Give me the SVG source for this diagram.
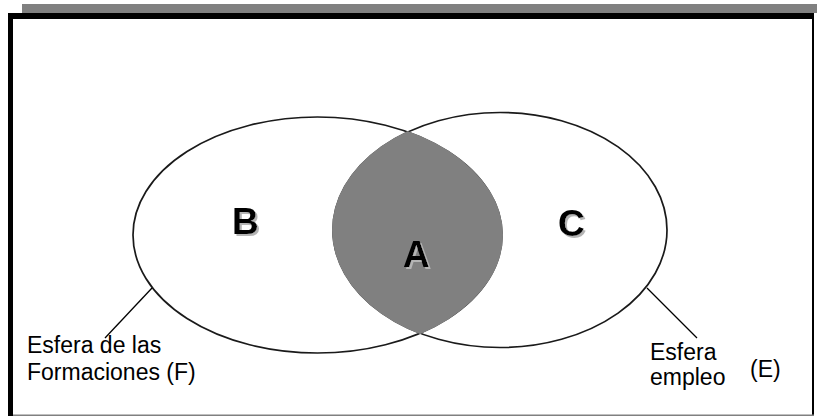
<svg xmlns="http://www.w3.org/2000/svg" width="817" height="416" viewBox="0 0 817 416">
<style>
.ell{fill:none;stroke:#1a1a1a;stroke-width:1.7}
.lbl{font-family:"Liberation Sans",Arial,sans-serif;font-size:23px;fill:#000}
.big{font-family:"Liberation Sans",Arial,sans-serif;font-size:37px;font-weight:bold;fill:#000;filter:url(#shadow)}
.lead{stroke:#000;stroke-width:1.3;fill:none}
</style>
<defs>
<clipPath id="clipL"><ellipse cx="317.5" cy="235" rx="185.5" ry="119"/></clipPath>
<filter id="shadow" x="-20%" y="-20%" width="150%" height="150%">
<feFlood flood-color="#b4b4b4" result="c"/>
<feComposite in="c" in2="SourceAlpha" operator="in" result="s"/>
<feOffset in="s" dx="2" dy="2" result="o"/>
<feMerge><feMergeNode in="o"/><feMergeNode in="SourceGraphic"/></feMerge>
</filter>
</defs>
<rect x="0" y="0" width="817" height="416" fill="#fff"/>
<g id="frame">
<rect x="22" y="4" width="795" height="9" fill="#808080"/>
<rect x="8" y="13" width="806" height="6" fill="#000"/>
<rect x="8" y="13" width="5" height="403" fill="#000"/>
<rect x="812" y="13" width="2" height="402" fill="#000"/>
<rect x="13" y="414.5" width="801" height="1.5" fill="#808080"/>
</g>
<g id="sphereF">
<ellipse class="ell" cx="317.5" cy="235" rx="184.5" ry="118"/>
</g>
<g id="sphereE">
<ellipse class="ell" cx="500" cy="230" rx="167" ry="117.5"/>
</g>
<g id="lens">
<ellipse cx="500" cy="230" rx="168" ry="118.5" fill="#808080" clip-path="url(#clipL)"/>
</g>
<g id="connectors">
<line class="lead" x1="152" y1="288" x2="105" y2="338"/>
<line class="lead" x1="647" y1="288" x2="697" y2="338"/>
</g>
<g id="labelB"><text class="big" x="232" y="234">B</text></g>
<g id="labelA"><text class="big" x="403" y="267">A</text></g>
<g id="labelC"><text class="big" x="558" y="236">C</text></g>
<g id="textF">
<text class="lbl" x="27" y="353">Esfera de las</text>
<text class="lbl" x="27" y="380">Formaciones (F)</text>
</g>
<g id="textE">
<text class="lbl" x="650" y="360">Esfera</text>
<text class="lbl" x="650" y="385">empleo</text>
<text class="lbl" x="750" y="377">(E)</text>
</g>
</svg>
